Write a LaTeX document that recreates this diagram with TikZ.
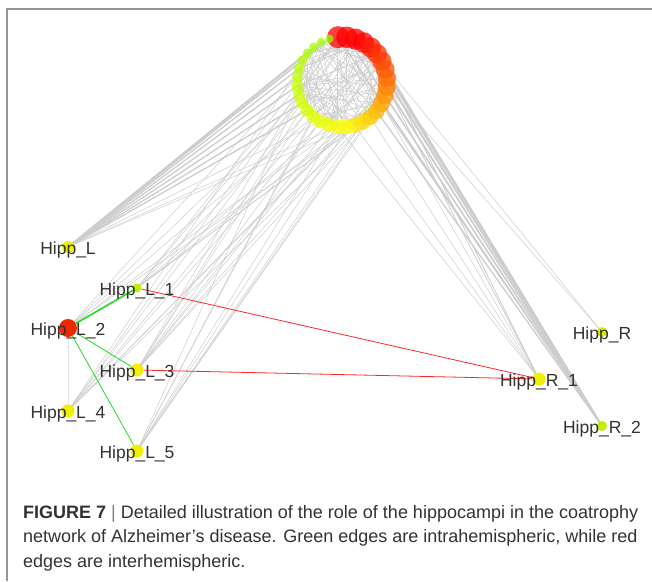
\documentclass[tikz,border=0pt]{standalone}
\usepackage{fontspec}
\setmainfont{Liberation Sans}
\usetikzlibrary{backgrounds}
\definecolor{hred}{RGB}{240,40,0}
\definecolor{hyel}{RGB}{242,240,0}
\definecolor{hlime}{RGB}{190,240,0}
\definecolor{hlemon}{RGB}{215,240,0}
\definecolor{ggreen}{RGB}{30,220,30}
\definecolor{rred}{RGB}{255,40,40}
\definecolor{edgegray}{RGB}{205,205,205}
\definecolor{framegray}{RGB}{150,150,150}
\definecolor{txt}{RGB}{50,50,50}

\tikzset{
  hipp/.style={circle, inner sep=0pt, minimum size=13pt},
  hipplab/.style={font=\fontsize{17.5}{17.5}\selectfont, text=txt, yshift=-2.5pt},
  ring/.style={circle, inner sep=0pt, fill opacity=0.75},
  coedge/.style={edgegray, line width=0.5pt},
  bundle/.style={edgegray, line width=1.3pt},
  intra/.style={ggreen, line width=0.8pt},
  inter/.style={rred, line width=0.8pt},
}

\begin{document}
\begin{tikzpicture}[x=1pt, y=-1pt]
  \useasboundingbox (0,0) rectangle (652,581);
  \draw[framegray, line width=1.5pt] (7,581) |- (652,9);

  % ring of regions, red (big) to green (small)
  \foreach \i in {0,...,31} {
    \pgfmathsetmacro\ang{95-11.25*\i}
    \pgfmathsetmacro\hd{\i<3.5 ? 0 : (\i<16.5 ? 60*(\i-3)/13 : 60+24*(\i-16)/15)}
    \pgfmathsetmacro\rr{\hd<60 ? 1 : (120-\hd)/60}
    \pgfmathsetmacro\gg{\hd<60 ? \hd/60 : 1}
    \pgfmathsetmacro\dia{2*(11-6.8*\i/31)}
    \definecolor{ringcol}{rgb}{\rr,\gg,0}
    \node[ring, fill=ringcol, minimum size=\dia pt] (c\i) at ({342+45*cos(\ang)},{82-45*sin(\ang)}) {};
  }

  % hippocampal nodes
  \node[hipp, fill=hyel, minimum size=12pt, label={[hipplab]center:Hipp\_L}] (hL) at (68,247) {};
  \node[hipp, fill=hlime, minimum size=9pt, label={[hipplab]center:Hipp\_L\_1}] (hL1) at (137,288) {};
  \node[hipp, fill=hred, minimum size=18pt, label={[hipplab]center:Hipp\_L\_2}] (hL2) at (68,328) {};
  \node[hipp, fill=hyel, label={[hipplab]center:Hipp\_L\_3}] (hL3) at (137,370) {};
  \node[hipp, fill=hyel, label={[hipplab]center:Hipp\_L\_4}] (hL4) at (68,411) {};
  \node[hipp, fill=hyel, label={[hipplab]center:Hipp\_L\_5}] (hL5) at (137,451) {};
  \node[hipp, fill=hlemon, minimum size=10pt, label={[hipplab]center:Hipp\_R}] (hR) at (602,332) {};
  \node[hipp, fill=hyel, label={[hipplab]center:Hipp\_R\_1}] (hR1) at (539,379) {};
  \node[hipp, fill=hlime, minimum size=10pt, label={[hipplab]center:Hipp\_R\_2}] (hR2) at (602,426) {};

  \begin{pgfonlayer}{background}
    % coatrophy edges inside the ring
    \pgfmathsetseed{11}
    \foreach \k in {1,...,130} {
      \pgfmathtruncatemacro\a{random(0,31)}
      \pgfmathtruncatemacro\b{random(0,31)}
      \draw[coedge] (c\a.center) -- (c\b.center);
    }
    % edges to the hippocampi
    \foreach \i in {21,...,31} \draw[bundle] (hL.center) -- (c\i.center);
    \foreach \i in {14,17,19} \draw[coedge] (hL.center) -- (c\i.center);
    \foreach \i in {0,...,12} \draw[bundle] (hR2.center) -- (c\i.center);
    \foreach \i in {3,5,...,17} \draw[coedge] (hR1.center) -- (c\i.center);
    \foreach \i in {6,9} \draw[coedge] (hR.center) -- (c\i.center);
    \foreach \i in {1,4,12,14,16,18,24} \draw[coedge] (hL1.center) -- (c\i.center);
    \foreach \i in {3,15,17,20,25} \draw[coedge] (hL2.center) -- (c\i.center);
    \foreach \i in {1,6,12,15,17,19,21,23} \draw[coedge] (hL3.center) -- (c\i.center);
    \foreach \i in {0,4,9,13,16,19,22,26} \draw[coedge] (hL4.center) -- (c\i.center);
    \foreach \i in {2,7,10,11,14,17,20,23} \draw[coedge] (hL5.center) -- (c\i.center);
    % intra- and interhemispheric edges
    \draw[edgegray!50, line width=0.4pt] (hL2) -- (hL4);
    \draw[intra, line width=1.6pt] (hL2) -- (hL1);
    \draw[intra] (hL2) -- (hL3);
    \draw[intra] (hL2) -- (hL5);
    \draw[inter] (hL1) -- (hR1);
    \draw[inter] (hL3) -- (hR1);
  \end{pgfonlayer}

  % caption
  \node[anchor=north west, align=left, inner sep=0pt, text=txt,
        font=\fontsize{18}{24.5}\selectfont] (caption) at (23,505)
    {\textbf{FIGURE 7} {\color{gray}|} Detailed illustration of the role of the hippocampi in the coatrophy\\
     network of Alzheimer’s disease. Green edges are intrahemispheric, while red\\
     edges are interhemispheric.};
\end{tikzpicture}
\end{document}
